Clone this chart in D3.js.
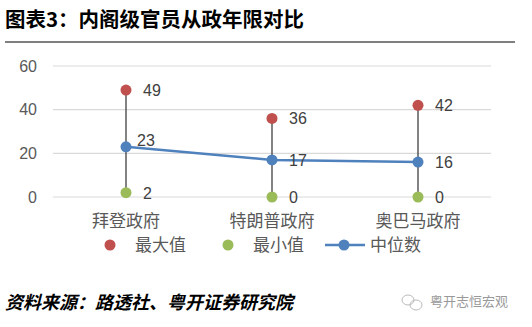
<!DOCTYPE html>
<html><head><meta charset="utf-8">
<script src="https://cdn.jsdelivr.net/npm/d3@7/dist/d3.min.js"></script>
<style>body{margin:0;background:#fff;}svg{display:block;font-family:"Noto Sans CJK SC","Noto Sans",sans-serif;}</style>
</head><body>
<svg id="c" width="532" height="327"></svg>
<script>
const categories = ["拜登政府", "特朗普政府", "奥巴马政府"];
const maxValues = [49, 36, 42];
const minValues = [2, 0, 0];
const medianValues = [23, 17, 16];
const yTicks = [0, 20, 40, 60];
const legendLabels = ["最大值", "最小值", "中位数"];

const red = "#C0504D", green = "#9BBB59", blue = "#4F81BD";
const svg = d3.select("#c");

// title
svg.append("text").attr("x", 5).attr("y", 27).attr("font-size", 20.5).attr("font-weight", "bold")
  .attr("fill", "#000").text("图表3：内阁级官员从政年限对比");
svg.append("line").attr("x1", 5).attr("x2", 515).attr("y1", 42).attr("y2", 42)
  .attr("stroke", "#000").attr("stroke-width", 1.2);

const x = d3.scaleBand().domain(categories).range([53, 491]);
const y = d3.scaleLinear().domain([0, 60]).range([197, 66]);
const cx = d => x(d) + x.bandwidth() / 2;

// gridlines
svg.append("g").selectAll("line").data(yTicks).join("line")
  .attr("x1", 53).attr("x2", 491).attr("y1", d => y(d)).attr("y2", d => y(d))
  .attr("stroke", "#d9d9d9").attr("stroke-width", 1.2);

const numFont = "Liberation Sans, Arial, sans-serif";
// y axis labels
const yAxis = d3.axisLeft(y).tickValues(yTicks).tickSize(0).tickPadding(0);
const gy = svg.append("g").attr("transform", "translate(37,0)").call(yAxis);
gy.select(".domain").remove();
gy.selectAll("text").attr("font-size", 16).attr("fill", "#595959").attr("font-family", numFont);

// x axis labels
const xAxis = d3.axisBottom(x).tickSize(0).tickPadding(0);
const gx = svg.append("g").attr("transform", "translate(0,215)").call(xAxis);
gx.select(".domain").remove();
gx.selectAll("text").attr("font-size", 17).attr("fill", "#595959")
  .attr("font-family", "\"Noto Sans CJK SC\", sans-serif");

// stems
svg.append("g").selectAll("line").data(categories).join("line")
  .attr("x1", cx).attr("x2", cx)
  .attr("y1", (d, i) => y(maxValues[i])).attr("y2", (d, i) => y(minValues[i]))
  .attr("stroke", "#404040").attr("stroke-width", 1.3);

// median line
svg.append("path").datum(categories)
  .attr("d", d3.line().x(cx).y((d, i) => y(medianValues[i])))
  .attr("fill", "none").attr("stroke", blue).attr("stroke-width", 2.5);

const dots = (vals, col) => svg.append("g").selectAll("circle").data(categories).join("circle")
  .attr("cx", cx).attr("cy", (d, i) => y(vals[i])).attr("r", 5.5).attr("fill", col);
dots(maxValues, red);
dots(minValues, green);
dots(medianValues, blue);

const labels = (vals, dx, dy) => svg.append("g").selectAll("text").data(categories).join("text")
  .attr("x", d => cx(d) + dx).attr("y", (d, i) => y(vals[i]) + dy)
  .attr("font-size", 16).attr("fill", "#404040").attr("font-family", numFont)
  .text((d, i) => vals[i]);
labels(maxValues, 17, 6);
labels(minValues, 17, 6);
// median labels: first above-right, others right
svg.append("g").selectAll("text").data(categories).join("text")
  .attr("x", (d, i) => cx(d) + (i === 0 ? 11 : 17))
  .attr("y", (d, i) => y(medianValues[i]) + (i === 0 ? -1 : 6))
  .attr("font-size", 16).attr("fill", "#404040").attr("font-family", numFont)
  .text((d, i) => medianValues[i]);

// legend
const lg = svg.append("g").attr("font-size", 17).attr("fill", "#595959");
lg.append("circle").attr("cx", 110).attr("cy", 245).attr("r", 5.5).attr("fill", red);
lg.append("text").attr("x", 135).attr("y", 251).text(legendLabels[0]);
lg.append("circle").attr("cx", 228).attr("cy", 245).attr("r", 5.5).attr("fill", green);
lg.append("text").attr("x", 253).attr("y", 251).text(legendLabels[1]);
lg.append("line").attr("x1", 325).attr("x2", 365).attr("y1", 245).attr("y2", 245).attr("stroke", blue).attr("stroke-width", 2.5);
lg.append("circle").attr("cx", 344).attr("cy", 245).attr("r", 5.5).attr("fill", blue);
lg.append("text").attr("x", 370).attr("y", 251).text(legendLabels[2]);

// source
svg.append("text").attr("x", 5).attr("y", 309).attr("font-size", 18).attr("font-style", "italic")
  .attr("font-weight", "bold").attr("fill", "#000").text("资料来源：路透社、粤开证券研究院");

// watermark
const wm = svg.append("g").attr("fill", "none").attr("stroke", "#bbb").attr("stroke-width", 1);
wm.append("ellipse").attr("cx", 408).attr("cy", 300).attr("rx", 6).attr("ry", 5);
wm.append("ellipse").attr("cx", 416).attr("cy", 305).attr("rx", 6).attr("ry", 5);
svg.append("text").attr("x", 430).attr("y", 306).attr("font-size", 13).attr("fill", "#999").text("粤开志恒宏观");
</script>
</body></html>
